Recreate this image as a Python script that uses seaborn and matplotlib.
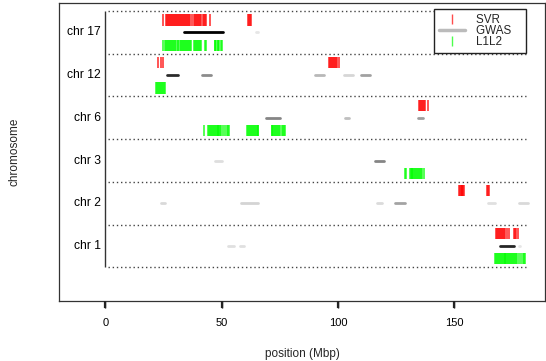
import numpy as np
import pandas as pd
import matplotlib
matplotlib.use("Agg")
import matplotlib.pyplot as plt
import matplotlib.transforms as mtransforms
import seaborn as sns
from matplotlib.lines import Line2D

sns.set_theme(style="ticks")
plt.rcParams["font.family"] = ["Liberation Sans", "DejaVu Sans"]

# lanes from bottom to top
chromosomes = ["chr 1", "chr 2", "chr 3", "chr 6", "chr 12", "chr 17"]

# positions (Mbp) of the SVR hits, per chromosome
svr_hits = {
    "chr 1": [168.0, 168.4, 168.8, 169.2, 169.6, 170.0, 170.4, 170.8, 171.2,
              171.8, 172.6, 173.4, 175.7, 176.3, 176.6, 177.3],
    "chr 2": [151.9, 152.3, 152.7, 153.1, 153.5, 153.9, 154.2, 164.1, 164.5, 164.9],
    "chr 3": [],
    "chr 6": [134.9, 135.3, 135.7, 136.1, 136.5, 136.9, 137.3, 138.7],
    "chr 12": [22.7, 23.8, 24.9, 96.3, 96.7, 97.1, 97.5, 97.9, 98.3, 98.7,
               99.1, 99.5, 100.3],
    "chr 17": [24.9, 26.0, 26.4, 26.9, 27.3, 27.7, 28.2, 28.6, 29.0, 29.5, 29.9,
               30.4, 30.8, 31.2, 31.7, 32.1, 32.6, 33.0, 33.4, 33.9, 34.3, 34.8,
               35.2, 35.6, 36.1, 36.5, 37.0, 37.9, 38.3, 38.8, 39.2, 39.6, 40.1,
               40.5, 40.9, 41.9, 42.2, 42.9, 43.4, 44.9, 61.2, 61.6, 62.1, 62.5],
}

# positions (Mbp) of the L1L2 hits, per chromosome
l1l2_hits = {
    "chr 1": [167.6, 168.0, 168.4, 168.8, 169.2, 169.6, 170.0, 170.4, 170.8,
              171.2, 171.6, 172.0, 172.4, 172.8, 173.2, 173.6, 174.0, 174.4,
              174.8, 175.2, 175.6, 176.0, 176.4, 177.0, 177.9, 178.8, 179.4,
              179.9, 180.5],
    "chr 2": [],
    "chr 3": [128.9, 129.3, 130.8, 131.2, 131.6, 132.0, 132.4, 132.8, 133.2,
              133.6, 134.0, 134.4, 134.8, 135.2, 135.6, 136.3, 137.1],
    "chr 6": [42.4, 44.2, 44.6, 45.0, 45.4, 45.8, 46.2, 46.6, 47.0, 47.4, 47.8,
              48.2, 48.6, 49.0, 49.4, 49.8, 50.5, 51.2, 52.2, 52.8, 53.3, 61.0,
              61.4, 61.8, 62.2, 62.6, 63.0, 63.4, 63.8, 64.2, 64.6, 65.0, 65.4,
              65.7, 71.4, 71.8, 72.2, 72.6, 73.0, 73.4, 73.8, 74.2, 74.6, 75.0,
              75.7, 76.3, 76.9, 77.3],
    "chr 12": [21.8, 22.2, 22.6, 23.0, 23.4, 23.8, 24.2, 24.6, 25.0, 25.6],
    "chr 17": [24.9, 25.4, 25.9, 26.4, 26.9, 27.4, 27.8, 28.3, 28.7, 29.2, 29.6,
               30.1, 30.5, 31.0, 31.4, 31.9, 32.3, 32.8, 33.2, 33.7, 34.1, 34.6,
               35.0, 35.5, 35.9, 36.4, 36.8, 38.0, 38.4, 38.9, 39.3, 39.8, 40.2,
               40.7, 41.0, 43.0, 43.4, 46.9, 47.3, 47.7, 48.2, 48.6, 49.0, 49.5,
               49.9],
}

# GWAS regions: chromosome, start, end (Mbp), grey shade (0 = black)
gwas_chrom = ["chr 17", "chr 17",
              "chr 12", "chr 12", "chr 12", "chr 12", "chr 12",
              "chr 6", "chr 6", "chr 6",
              "chr 3", "chr 3",
              "chr 2", "chr 2", "chr 2", "chr 2", "chr 2", "chr 2",
              "chr 1", "chr 1", "chr 1", "chr 1"]
gwas_start = [33.8, 64.6,
              26.3, 41.7, 89.9, 102.4, 109.7,
              68.9, 103.1, 134.2,
              46.9, 115.7,
              23.7, 58.1, 116.6, 124.5, 164.6, 177.9,
              52.7, 58.0, 169.5, 177.9]
gwas_end = [50.5, 65.8,
            31.0, 45.3, 93.9, 106.4, 113.7,
            74.9, 104.8, 136.5,
            50.3, 119.7,
            25.7, 65.4, 119.1, 128.9, 167.7, 181.5,
            55.1, 59.4, 175.6, 178.3]
gwas_shade = [0.0, 0.90,
              0.17, 0.55, 0.72, 0.84, 0.63,
              0.52, 0.75, 0.62,
              0.87, 0.52,
              0.85, 0.83, 0.86, 0.64, 0.88, 0.85,
              0.88, 0.88, 0.15, 0.90]

x_ticks = [0, 50, 100, 150]

lane = {c: i + 1 for i, c in enumerate(chromosomes)}

rows = []
for track, hits in [("SVR", svr_hits), ("L1L2", l1l2_hits)]:
    for chrom, positions in hits.items():
        for p in positions:
            rows.append((track, chrom, p))
ticks = pd.DataFrame(rows, columns=["track", "chrom", "pos"])
track_offset = {"SVR": 0.295, "L1L2": -0.30}
ticks["y"] = ticks["chrom"].map(lane) + ticks["track"].map(track_offset)

gwas = pd.DataFrame({"chrom": gwas_chrom, "start": gwas_start,
                     "end": gwas_end, "shade": gwas_shade})
gwas["y"] = gwas["chrom"].map(lane)

fig = plt.figure(figsize=(5.46, 3.61), dpi=100)
ax = fig.add_axes([58.5 / 546, 1 - 301 / 361, (545 - 58.5) / 546, 298 / 361])

# dotted lane separators and the axis line at position 0
ax.hlines(np.arange(0.5, len(chromosomes) + 1), 1.2, 180.8, colors="#444444",
          linestyles=(0, (1, 2)), linewidth=1.0)
ax.vlines(0, 0.5, len(chromosomes) + 0.5, colors="#333333", linewidth=1.0)

lc = ax.hlines(gwas["y"], gwas["start"], gwas["end"],
               colors=[str(s) for s in gwas["shade"]], linewidth=2.0)
lc.set_capstyle("round")

sns.scatterplot(data=ticks, x="pos", y="y", hue="track",
                palette={"SVR": "#ff0000", "L1L2": "#00ff00"},
                marker="|", s=66, linewidth=1.3, alpha=0.72,
                legend=False, ax=ax)

for chrom, y in lane.items():
    ax.text(-2.0, y, chrom, ha="right", va="center", fontsize=8.7, color="black")

ax.set_xlim(-20.2, 189.0)
ax.set_ylim(-0.29, 6.69)
ax.set_xticks(x_ticks)
ax.set_yticks([])
ax.set_xlabel("")
ax.set_ylabel("")
ax.tick_params(axis="x", which="major", bottom=True, direction="out",
               length=5, width=1.0, color="black", pad=7, labelsize=8,
               labelcolor="black")
# x tick marks drawn explicitly below the box as well
tick_tr = mtransforms.blended_transform_factory(ax.transData, ax.transAxes)
ax.vlines(x_ticks, -0.025, 0, colors="#222222", linewidth=1.6,
          transform=tick_tr, clip_on=False, zorder=5)
for sp in ax.spines.values():
    sp.set_visible(True)
    sp.set_color("#333333")
    sp.set_linewidth(0.9)

handles = [
    Line2D([], [], color="#ff0000", marker="|", linestyle="None",
           markersize=7, markeredgewidth=1.0, alpha=0.7),
    Line2D([], [], color="#bbbbbb", linewidth=2.5, solid_capstyle="round"),
    Line2D([], [], color="#00ff00", marker="|", linestyle="None",
           markersize=7, markeredgewidth=1.0, alpha=0.7),
]
leg = ax.legend(handles, ["SVR   ", "GWAS   ", "L1L2   "], loc="upper right",
                bbox_to_anchor=(0.961, 0.980), borderaxespad=0,
                fontsize=8.4, handlelength=2.2, handletextpad=1.0,
                borderpad=0.4, labelspacing=-0.05, fancybox=False,
                framealpha=1, edgecolor="#222222")
leg.get_frame().set_linewidth(1.0)

fig.text(302 / 546, (361 - 357.3) / 361, "position (Mbp)", ha="center",
         va="baseline", fontsize=8.5)
fig.text(14 / 546, 1 - 152 / 361, "chromosome", ha="center", va="center",
         rotation=90, fontsize=8.5)

fig.savefig("out.png", dpi=100)
